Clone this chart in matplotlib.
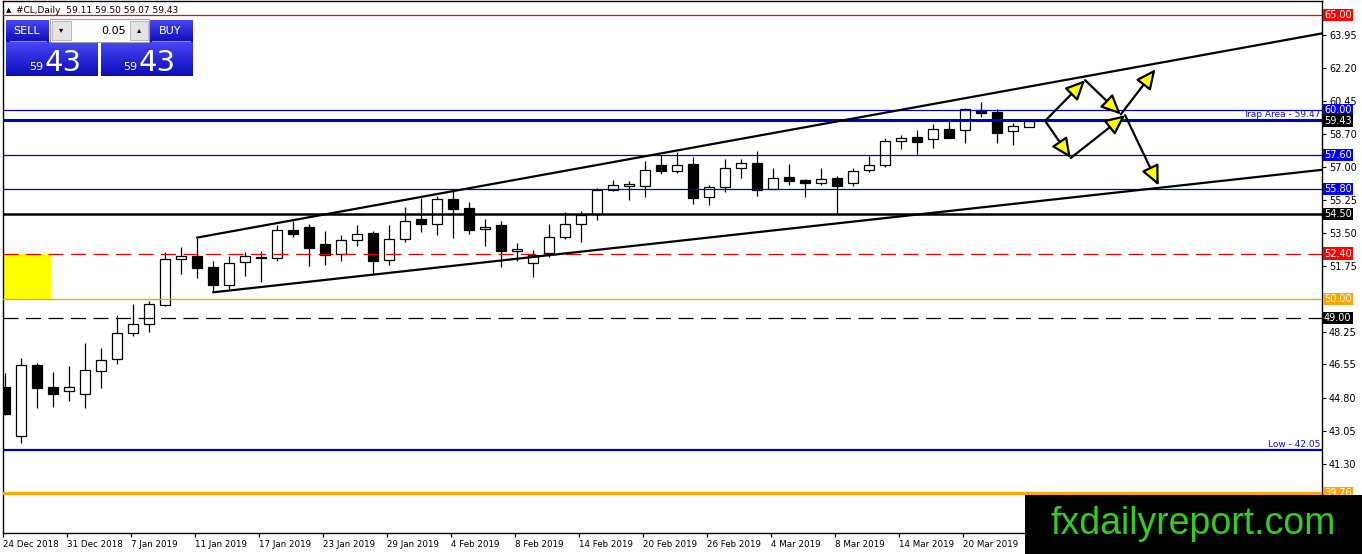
import numpy as np
import matplotlib.pyplot as plt
from matplotlib.patches import Rectangle
from matplotlib.colors import LinearSegmentedColormap

# --- datos (#CL Daily) ---
dates = ['24 Dec 2018', '31 Dec 2018', '7 Jan 2019', '11 Jan 2019', '17 Jan 2019',
         '23 Jan 2019', '29 Jan 2019', '4 Feb 2019', '8 Feb 2019', '14 Feb 2019',
         '20 Feb 2019', '26 Feb 2019', '4 Mar 2019', '8 Mar 2019', '14 Mar 2019',
         '20 Mar 2019']
date_bars = [0, 4, 8, 12, 16, 20, 24, 28, 32, 36, 40, 44, 48, 52, 56, 60]

opens = [45.37, 42.76, 46.53, 45.37, 45.14, 45.01, 46.20, 46.83, 48.21, 48.68,
         49.69, 52.12, 52.25, 51.72, 50.75, 51.97, 52.18, 52.18, 53.66, 53.80,
         52.92, 52.39, 53.13, 53.50, 52.07, 53.18, 54.24, 53.98, 55.30, 54.82,
         53.71, 53.89, 52.55, 51.92, 52.42, 53.27, 53.94, 54.51, 55.74, 55.99,
         55.99, 57.06, 56.76, 57.11, 55.38, 55.91, 56.94, 57.20, 55.79, 56.43,
         56.27, 56.15, 56.41, 56.15, 56.83, 57.06, 58.37, 58.54, 58.47, 58.97,
         58.91, 59.97, 59.88, 58.86, 59.11]
highs = [46.11, 46.90, 46.62, 46.16, 46.48, 47.68, 47.41, 49.16, 49.74, 49.92,
         52.51, 52.74, 53.25, 52.03, 52.25, 52.47, 52.56, 53.89, 54.15, 53.98,
         53.59, 53.41, 53.89, 53.62, 53.89, 54.86, 55.35, 55.47, 55.74, 55.12,
         54.24, 54.15, 52.95, 52.60, 53.98, 54.59, 54.64, 55.84, 56.31, 56.23,
         57.27, 57.59, 57.77, 57.50, 56.00, 57.38, 57.38, 57.80, 56.94, 57.15,
         56.36, 56.94, 56.50, 56.94, 57.54, 58.51, 58.69, 58.91, 59.22, 59.53,
         60.09, 60.41, 60.03, 59.32, 59.50]
lows = [43.90, 42.42, 44.27, 44.32, 44.64, 44.27, 45.28, 46.57, 48.05, 48.26,
        49.62, 51.33, 51.10, 50.36, 50.54, 51.20, 50.89, 52.00, 53.27, 51.73,
        51.80, 52.03, 52.83, 51.33, 51.80, 53.00, 53.53, 53.36, 53.24, 53.45,
        52.78, 51.72, 52.03, 51.15, 52.21, 53.18, 53.00, 54.19, 55.70, 55.25,
        55.38, 56.62, 56.68, 55.03, 54.95, 55.65, 56.39, 55.47, 55.79, 56.00,
        55.38, 56.00, 54.51, 55.97, 56.71, 56.97, 57.91, 57.68, 57.98, 58.50,
        58.24, 59.62, 58.26, 58.16, 59.07]
closes = [43.94, 46.51, 45.28, 45.01, 45.37, 46.25, 46.78, 48.21, 48.68, 49.74,
          52.12, 52.30, 51.63, 50.75, 51.93, 52.28, 52.23, 53.66, 53.43, 52.69,
          52.35, 53.13, 53.45, 52.00, 53.18, 54.11, 53.98, 55.30, 54.77, 53.66,
          53.83, 52.53, 52.65, 52.34, 53.30, 53.94, 54.42, 55.78, 56.04, 56.07,
          56.83, 56.76, 57.06, 55.35, 55.91, 56.94, 57.20, 55.74, 56.41, 56.23,
          56.13, 56.36, 55.97, 56.74, 57.06, 58.33, 58.49, 58.29, 59.00, 58.51,
          60.06, 59.85, 58.79, 59.13, 59.43]

# niveles horizontales: (precio, color linea, grosor, estilo, color etiqueta)
levels = [
    (65.00, '#ff0000', 0.9, '-', '#ff0000'),
    (60.00, '#0000b4', 0.9, '-', '#0000ff'),
    (59.47, '#0000b4', 2.2, '-', None),
    (57.60, '#0000b4', 0.9, '-', '#0000ff'),
    (55.80, '#0000b4', 0.9, '-', '#0000ff'),
    (54.50, '#000000', 1.8, '-', '#000000'),
    (52.40, '#e00000', 0.9, (0, (12, 6)), '#ff0000'),
    (50.00, '#ffa500', 1.0, '-', '#ffa500'),
    (49.00, '#000000', 0.9, (0, (12, 6)), '#000000'),
    (42.05, '#0000a0', 1.6, '-', None),
    (39.76, '#ffa500', 2.2, '-', '#ffa500'),
]
bid_price = 59.43
y_ticks = [63.95, 62.20, 60.45, 58.70, 57.00, 55.25, 53.50, 51.75,
           48.25, 46.55, 44.80, 43.05, 41.30]

# canal (inicio barra, precio) y pendiente por barra
upper_channel = (12, 53.25, 0.1533)
lower_channel = (13, 50.36, 0.0933)
yellow_zone = (-1.0, 2.85, 50.00, 52.40)

# escenarios (flechas)
path_up = [(65.0, 59.41), (67.5, 61.56), (69.73, 59.75), (71.9, 62.14)]
path_down = [(65.0, 59.41), (66.6, 57.45), (70.0, 59.71), (72.1, 56.0)]

W, H = 1362, 554
XMIN, XMAX = -0.125, 82.31
YMIN, YMAX = 37.65, 65.74

fig = plt.figure(figsize=(W / 100, H / 100), dpi=100)
fig.patch.set_facecolor('white')
ax = fig.add_axes([3 / W, 21 / H, 1319 / W, 532 / H])
ax.set_xlim(XMIN, XMAX)
ax.set_ylim(YMIN, YMAX)

# zona amarilla
x0, x1, y0, y1 = yellow_zone
ax.add_patch(Rectangle((x0, y0), x1 - x0, y1 - y0, fc='#ffff00', ec='none', zorder=1))

# velas
idx = np.arange(len(opens))
o = np.array(opens); c = np.array(closes)
ax.vlines(idx, lows, highs, color='black', lw=0.9, zorder=2)
up = c >= o
bw = 0.62
ax.bar(idx[up], (c - o)[up], bottom=o[up], width=bw, color='white',
       edgecolor='black', lw=0.9, zorder=3)
ax.bar(idx[~up], (o - c)[~up], bottom=c[~up], width=bw, color='black',
       edgecolor='black', lw=0.9, zorder=3)

# lineas horizontales + etiquetas
ytr = ax.get_yaxis_transform()
for price, col, lw, ls, lab in levels:
    ax.axhline(price, color=col, lw=lw, ls=ls, zorder=4)
    if lab:
        ax.text(1.0015, price, f'{price:.2f}', transform=ytr, color='white',
                fontsize=7, va='center', ha='left', clip_on=False, zorder=10,
                bbox=dict(boxstyle='square,pad=0.12', fc=lab, ec='none'))
ax.text(1.0015, bid_price, f'{bid_price:.2f}', transform=ytr, color='white',
        fontsize=7, va='center', ha='left', clip_on=False, zorder=10,
        bbox=dict(boxstyle='square,pad=0.12', fc='black', ec='none'))
ax.text(0.9985, 59.52, 'Trap Area - 59.47', transform=ytr, color='#1010c0',
        fontsize=6.5, ha='right', va='bottom')
ax.text(0.9985, 42.10, 'Low - 42.05', transform=ytr, color='#1010c0',
        fontsize=6.5, ha='right', va='bottom')

# canal
for b0, p0, k in (upper_channel, lower_channel):
    ax.plot([b0, XMAX], [p0, p0 + k * (XMAX - b0)], color='black', lw=1.6, zorder=5)

# flechas
for path in (path_up, path_down):
    for (xa, ya), (xb, yb) in zip(path[:-1], path[1:]):
        ax.annotate('', xy=(xb, yb), xytext=(xa, ya), zorder=6,
                    arrowprops=dict(arrowstyle='-|>,head_length=0.6,head_width=0.28',
                                    mutation_scale=20, fc='#ffff00', ec='black',
                                    lw=1.6, shrinkA=0, shrinkB=0))

# ejes
for s in ['left', 'right', 'bottom', 'top']:
    ax.spines[s].set_color('black')
    ax.spines[s].set_linewidth(1.0)
ax.yaxis.tick_right()
ax.set_yticks(y_ticks)
ax.set_yticklabels([f'{v:.2f}' for v in y_ticks])
ax.tick_params(axis='y', direction='out', length=3, width=0.8, labelsize=7, pad=2)
ax.set_xticks(np.array(date_bars) - 0.15)
ax.set_xticklabels(dates, ha='left')
ax.tick_params(axis='x', direction='out', length=3, width=0.8, labelsize=6.3, pad=2)

# capa superior en pixeles (cabecera, panel, marca)
ov = fig.add_axes([0, 0, 1, 1], zorder=20)
ov.set_xlim(0, W)
ov.set_ylim(H, 0)
ov.axis('off')
ov.patch.set_alpha(0)

ov.text(9, 10.5, '\u25b2', fontsize=5, ha='center', va='center')
ov.text(16, 10.5, '#CL,Daily  59.11 59.50 59.07 59.43', fontsize=6.5,
        ha='left', va='center')

grad = np.linspace(0, 1, 64).reshape(-1, 1)
blues = LinearSegmentedColormap.from_list('b', ['#4646f5', '#0c0cb8'])
for (rx, ry, rw, rh) in [(6, 20, 43, 22), (6, 42, 92, 34), (149, 20, 44, 22), (101, 42, 92, 34)]:
    ov.imshow(grad, cmap=blues, extent=(rx, rx + rw, ry + rh, ry), aspect='auto',
              vmin=0, vmax=1, zorder=1)
ov.plot([10, 46], [41, 41], color='#8888ee', lw=0.8, zorder=2)
ov.plot([152, 190], [41, 41], color='#8888ee', lw=0.8, zorder=2)
ov.add_patch(Rectangle((50, 19), 99, 23, fc='white', ec='#a0a0a0', lw=0.8, zorder=2))
ov.add_patch(Rectangle((52, 21), 19, 19, fc='#e4e4e4', ec='#b0b0b0', lw=0.6, zorder=3))
ov.add_patch(Rectangle((130, 21), 18, 19, fc='#e4e4e4', ec='#b0b0b0', lw=0.6, zorder=3))
ov.text(61.5, 30, '\u25be', fontsize=6, ha='center', va='center', zorder=4)
ov.text(139, 30, '\u25b4', fontsize=6, ha='center', va='center', zorder=4)
ov.text(126, 30.5, '0.05', fontsize=8, ha='right', va='center', zorder=4)
ov.text(27, 30.5, 'SELL', fontsize=8, color='white', ha='center', va='center', zorder=4)
ov.text(170, 30.5, 'BUY', fontsize=8, color='white', ha='center', va='center', zorder=4)
for bx in (43, 137):
    ov.text(bx, 70, '59', fontsize=8, color='white', ha='right', va='baseline', zorder=4)
    ov.text(bx + 2, 71, '43', fontsize=21, color='white', ha='left', va='baseline', zorder=4)

ov.add_patch(Rectangle((1025, 495), W - 1025, H - 495, fc='black', ec='none', zorder=5))
ov.text(1193, 524, 'fxdailyreport.com', fontsize=27, color='#33cc22',
        family='Liberation Sans', ha='center', va='center', zorder=6)

fig.savefig('out.png', dpi=100)
